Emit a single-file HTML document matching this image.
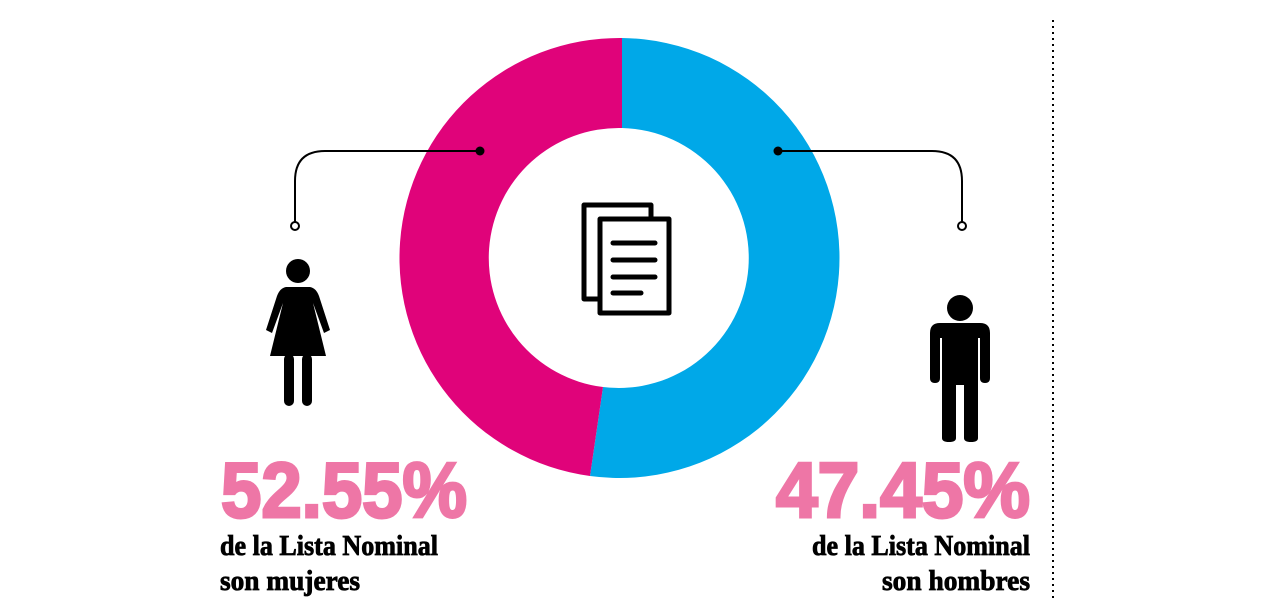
<!DOCTYPE html>
<html><head><meta charset="utf-8"><style>html,body{margin:0;padding:0;background:#fff;}svg{display:block}</style></head>
<body>
<svg width="1270" height="600" viewBox="0 0 1270 600" xmlns="http://www.w3.org/2000/svg">
<rect width="1270" height="600" fill="#fff"/>
<path d="M622,38 A220,220 0 1,1 590,476 L603,387 A130,130 0 1,0 622,128 Z" fill="#00a8e8"/>
<path d="M590,476 A220,220 0 0,1 622,38 L622,128 A130,130 0 0,0 603,387 Z" fill="#e0037a"/>
<g fill="#fff" stroke="#000" stroke-width="5" stroke-linejoin="round">
<rect x="584" y="205" width="67" height="94"/>
<rect x="600" y="219" width="69" height="94"/>
</g>
<g stroke="#000" stroke-width="5" stroke-linecap="round">
<line x1="613" y1="243" x2="655" y2="243"/><line x1="613" y1="260" x2="655" y2="260"/>
<line x1="613" y1="277" x2="655" y2="277"/><line x1="613" y1="293" x2="641" y2="293"/>
</g>
<g fill="none" stroke="#000" stroke-width="2">
<path d="M480,151 L325,151 Q295,151 295,181 L295,222"/>
<path d="M778,151 L932,151 Q962,151 962,181 L962,222"/>
</g>
<circle cx="480" cy="151" r="4.5" fill="#000"/><circle cx="778" cy="151" r="4.5" fill="#000"/>
<circle cx="295" cy="226" r="4" fill="#fff" stroke="#000" stroke-width="2"/>
<circle cx="962" cy="226" r="4" fill="#fff" stroke="#000" stroke-width="2"/>
<g fill="#000">
<circle cx="298" cy="271" r="12"/>
<path d="M286,287 L310,287 Q316,288 319,296 L330,330 L324,333 L313,303 L326,356 L270,356 L283,303 L272,333 L266,330 L277,296 Q280,288 286,287 Z"/>
<rect x="284" y="354" width="10" height="52" rx="5"/>
<rect x="302" y="354" width="10" height="52" rx="5"/>
</g>
<g fill="#000">
<circle cx="960" cy="308" r="13"/>
<path d="M940,323 L980,323 Q990,323 990,333 L990,378 Q990,383 985,383 Q980,383 980,378 L980,338 L978,338 L978,438 Q978,442 971,442 Q964,442 964,438 L964,385 L956,385 L956,438 Q956,442 949,442 Q942,442 942,438 L942,338 L940,338 L940,378 Q940,383 935,383 Q930,383 930,378 L930,333 Q930,323 940,323 Z"/>
</g>
<line x1="1053" y1="20" x2="1053" y2="600" stroke="#000" stroke-width="2" stroke-dasharray="2,4"/>
<g font-family="Liberation Sans, sans-serif" font-weight="bold" fill="#ee76a6" stroke="#ee76a6" stroke-width="3" font-size="78">
<text x="221" y="517" textLength="246" lengthAdjust="spacingAndGlyphs">52.55%</text>
<text x="776" y="517" textLength="254" lengthAdjust="spacingAndGlyphs">47.45%</text>
</g>
<g font-family="Liberation Serif, serif" font-weight="bold" fill="#000" stroke="#000" stroke-width="0.8" font-size="29">
<text x="220" y="555" textLength="218" lengthAdjust="spacingAndGlyphs">de la Lista Nominal</text>
<text x="220" y="590" textLength="140" lengthAdjust="spacingAndGlyphs">son mujeres</text>
<text x="812" y="555" textLength="218" lengthAdjust="spacingAndGlyphs">de la Lista Nominal</text>
<text x="882" y="590" textLength="148" lengthAdjust="spacingAndGlyphs">son hombres</text>
</g>
</svg>
</body></html>
